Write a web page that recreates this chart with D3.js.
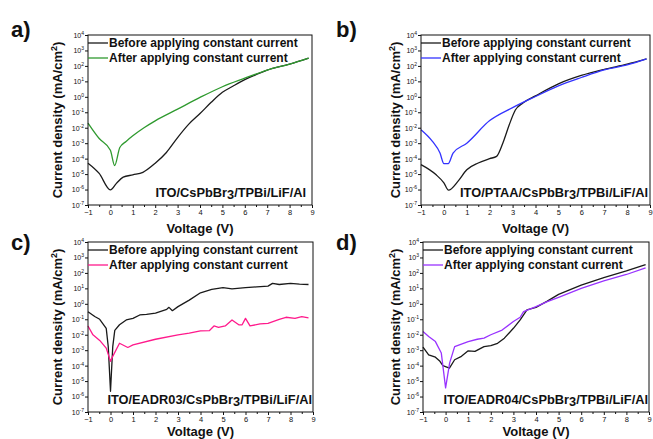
<!DOCTYPE html>
<html>
<head>
<meta charset="utf-8">
<script src="https://cdn.jsdelivr.net/npm/d3@7"></script>
<style>
  body { margin: 0; background: #fff; }
  text { font-family: "Liberation Sans", Arial, sans-serif; fill: #111; }
</style>
</head>
<body>
<div id="chart"></div>
<script>
// values (V, mA/cm2)
var aBeforeV = [-1, -0.5, 0, 0.27, 0.57, 1, 1.45, 2, 2.5, 3, 3.5, 4, 4.5, 5, 5.5, 6, 6.5, 7, 8, 8.85]
var aBeforeJ = [5.1e-5, 1.1e-5, 9.5e-7, 2.5e-6, 6.3e-6, 8.9e-6, 1.3e-5, 5e-5, 2.5e-4, 2.3e-3, 1.7e-2, 8.3e-2, 0.44, 1.95, 5.2, 12.9, 27, 54, 132, 324]
var aAfterV = [-1, -0.5, 0, 0.19, 0.42, 0.7, 1, 1.5, 2, 3, 4, 5, 6, 7, 8, 8.85]
var aAfterJ = [2.0e-2, 2.0e-3, 3.5e-4, 3.6e-5, 5.2e-4, 1.3e-3, 3.0e-3, 1.0e-2, 2.8e-2, 0.16, 0.91, 4.5, 16, 54, 132, 324]

var bBeforeV = [-1, -0.35, 0, 0.2, 0.62, 1, 1.5, 2, 2.3, 2.6, 2.85, 3.12, 3.45, 4, 5, 6, 7, 8, 8.85]
var bBeforeJ = [4.1e-5, 9.3e-6, 2.7e-6, 9.1e-7, 3.5e-6, 1.9e-5, 5.2e-5, 1e-4, 1.4e-4, 1.3e-3, 1.5e-2, 0.14, 0.4, 1.15, 6.9, 24, 60, 129, 282]
var bAfterV = [-1, -0.5, -0.17, 0, 0.19, 0.4, 1, 2, 3, 4, 5, 6, 7, 8, 8.85]
var bAfterJ = [7.4e-3, 1.3e-3, 2.3e-4, 4.8e-5, 4.8e-5, 2.3e-4, 1.0e-3, 2.9e-2, 0.2, 1.05, 5.1, 17.8, 55, 115, 282]

var cBeforeV = [-1, -0.7, -0.48, -0.19, -0.1, 0, 0.1, 0.19, 0.4, 0.7, 1, 1.3, 1.6, 2, 2.5, 2.6, 2.75, 3, 3.5, 4, 4.5, 5, 5.4, 6, 6.5, 7, 7.2, 7.5, 8, 8.4, 8.8]
var cBeforeJ = [0.31, 0.15, 0.1, 0.026, 1.7e-3, 2.2e-6, 1.7e-3, 0.019, 0.044, 0.091, 0.115, 0.19, 0.21, 0.25, 0.44, 0.59, 0.36, 0.66, 1.74, 5.2, 8.5, 11, 9.3, 11, 12.6, 14, 21, 17.8, 21, 18.6, 17.8]
var cAfterV = [-1, -0.78, -0.48, -0.19, 0, 0.1, 0.4, 0.77, 1, 2, 3, 3.5, 4, 4.4, 4.6, 4.8, 5.1, 5.4, 5.7, 5.85, 6, 6.2, 6.65, 7, 7.5, 7.8, 8.2, 8.5, 8.8]
var cAfterJ = [0.037, 9.8e-3, 4.3e-3, 1.35e-3, 1.9e-4, 4e-4, 2.8e-3, 1.5e-3, 2.2e-3, 5.1e-3, 9.8e-3, 0.0126, 0.0178, 0.0186, 0.037, 0.030, 0.037, 0.091, 0.044, 0.044, 0.115, 0.037, 0.05, 0.055, 0.1, 0.135, 0.115, 0.148, 0.123]

var dBeforeV = [-1, -0.75, -0.45, -0.25, -0.12, 0.17, 0.4, 0.7, 1, 1.3, 1.7, 2, 2.3, 2.6, 3, 3.3, 3.6, 4, 4.5, 5, 6, 7, 8, 8.85]
var dBeforeJ = [1.6e-3, 5e-4, 3.5e-4, 1.9e-4, 1e-4, 7e-5, 2.4e-4, 4e-4, 9.1e-4, 8.3e-4, 1.7e-3, 2e-3, 2.8e-3, 6e-3, 0.026, 0.091, 0.4, 0.59, 1.5, 4.1, 16, 50, 135, 347]
var dAfterV = [-1, -0.75, -0.45, -0.19, 0, 0.18, 0.4, 0.7, 1, 1.4, 1.7, 2, 2.5, 3, 3.3, 3.45, 4, 4.5, 5, 6, 7, 8, 8.85]
var dAfterJ = [0.016, 7.6e-3, 3.6e-3, 6.5e-4, 3.6e-6, 1.5e-4, 1.7e-3, 2.5e-3, 3.6e-3, 5.1e-3, 6e-3, 0.01, 0.02, 0.071, 0.135, 0.31, 0.66, 1.38, 2.6, 10, 30, 79, 209]

var xTicks = [-1, 0, 1, 2, 3, 4, 5, 6, 7, 8, 9]
var yExps = [-7, -6, -5, -4, -3, -2, -1, 0, 1, 2, 3, 4]
var legendLabels = ['Before applying constant current', 'After applying constant current']

var panels = [
  { tag: 'a)', box: [88, 312, 35, 205], tagXY: [11, 37], titleX: 57, pad: 6, xtY: 232.5,
    before: [aBeforeV, aBeforeJ], after: [aAfterV, aAfterJ], color: '#2f9a2f',
    device: ['ITO/CsPbBr', '3', '/TPBi/LiF/Al'], smooth: true },
  { tag: 'b)', box: [421, 650, 35, 205], tagXY: [336, 37], titleX: 395, pad: 2, xtY: 232.5,
    before: [bBeforeV, bBeforeJ], after: [bAfterV, bAfterJ], color: '#3333ff',
    device: ['ITO/PTAA/CsPbBr', '3', '/TPBi/LiF/Al'], smooth: true },
  { tag: 'c)', box: [88, 313, 242, 412], tagXY: [11, 250], titleX: 57, pad: 1, xtY: 435.5,
    before: [cBeforeV, cBeforeJ], after: [cAfterV, cAfterJ], color: '#ff1a8c',
    device: ['ITO/EADR03/CsPbBr', '3', '/TPBi/LiF/Al'], smooth: false },
  { tag: 'd)', box: [423, 649, 242, 412], tagXY: [336, 250], titleX: 395, pad: 1, xtY: 435.5,
    before: [dBeforeV, dBeforeJ], after: [dAfterV, dAfterJ], color: '#9933ff',
    device: ['ITO/EADR04/CsPbBr', '3', '/TPBi/LiF/Al'], smooth: false }
]

var svg = d3.select('#chart').append('svg').attr('width', 653).attr('height', 439)

panels.forEach(function (p) {
  var x0 = p.box[0], x1 = p.box[1], y0 = p.box[2], y1 = p.box[3]
  var x = d3.scaleLinear().domain([-1, 9]).range([x0, x1])
  var y = d3.scaleLog().domain([1e-7, 1e4]).range([y1, y0])
  var g = svg.append('g')

  // curves
  var line = d3.line()
    .x(function (d) { return x(d[0]) })
    .y(function (d) { return y(d[1]) })
    .curve(p.smooth ? d3.curveMonotoneX : d3.curveLinear)
  var series = [[p.before, '#1a1a1a'], [p.after, p.color]]
  series.forEach(function (s) {
    var pts = d3.zip(s[0][0], s[0][1])
    g.append('path').datum(pts).attr('d', line)
      .attr('fill', 'none').attr('stroke', s[1]).attr('stroke-width', 1.3)
      .attr('stroke-linejoin', 'round')
  })

  // frame
  g.append('rect').attr('x', x0).attr('y', y0).attr('width', x1 - x0).attr('height', y1 - y0)
    .attr('fill', 'none').attr('stroke', '#111').attr('stroke-width', 1)

  // x axis
  var xa = g.append('g').attr('transform', 'translate(0,' + y1 + ')')
    .call(d3.axisBottom(x).tickValues(xTicks).tickSize(3).tickFormat(d3.format('d')))
  var xm = g.append('g').attr('transform', 'translate(0,' + y1 + ')')
    .call(d3.axisBottom(x).tickValues(xTicks.slice(0, -1).map(function (t) { return t + 0.5 })).tickSize(2).tickFormat(''))
  ;[xa, xm].forEach(function (a) {
    a.select('.domain').remove()
    a.selectAll('line').attr('stroke', '#111')
  })
  xa.selectAll('text').attr('font-size', 7.5).attr('dy', '0.9em').attr('y', 3.5)
    .style('font-family', '"Liberation Sans", Arial, sans-serif').attr('fill', '#222')

  // y axis
  var ya = g.append('g').attr('transform', 'translate(' + x0 + ',0)')
    .call(d3.axisLeft(y).tickValues(yExps.map(function (e) { return Math.pow(10, e) })).tickSize(3).tickFormat(''))
  ya.select('.domain').remove()
  ya.selectAll('line').attr('stroke', '#111')
  ya.selectAll('.tick').each(function (d, i) {
    var t = d3.select(this).append('text').attr('x', -4).attr('dy', '0.35em')
      .attr('text-anchor', 'end').attr('font-size', 7).attr('fill', '#222')
      .style('font-family', '"Liberation Sans", Arial, sans-serif')
    t.append('tspan').text('10')
    t.append('tspan').attr('font-size', 5).attr('dy', -3).text(yExps[i])
  })

  // axis titles
  g.append('text').attr('x', (x0 + x1) / 2).attr('y', p.xtY)
    .attr('text-anchor', 'middle').attr('font-size', 13).attr('font-weight', 'bold')
    .text('Voltage (V)')
  var yt = g.append('text')
    .attr('transform', 'translate(' + (p.titleX + 4.5) + ',' + ((y0 + y1) / 2) + ') rotate(-90)')
    .attr('text-anchor', 'middle').attr('font-size', 13).attr('font-weight', 'bold')
  yt.append('tspan').text('Current density (mA/cm')
  yt.append('tspan').attr('font-size', 9).attr('dy', -5).text('2')
  yt.append('tspan').attr('dy', 5).text(')')

  // panel tag
  g.append('text').attr('x', p.tagXY[0]).attr('y', p.tagXY[1])
    .attr('font-size', 22).attr('font-weight', 'bold').text(p.tag)

  // legend
  legendLabels.forEach(function (lab, i) {
    var ly = y0 + 8 + i * 15
    g.append('line').attr('x1', x0).attr('x2', x0 + 20).attr('y1', ly).attr('y2', ly)
      .attr('stroke', i ? p.color : '#1a1a1a').attr('stroke-width', 1.3)
    g.append('text').attr('x', x0 + 21).attr('y', ly + 4.3)
      .attr('font-size', 12).attr('font-weight', 'bold').text(lab)
  })

  // device stack label
  var dv = g.append('text').attr('x', x1 - p.pad).attr('y', y1 - 8)
    .attr('text-anchor', 'end').attr('font-size', 12.8).attr('font-weight', 'bold')
  dv.append('tspan').text(p.device[0])
  dv.append('tspan').attr('dy', 1.5).text(p.device[1])
  dv.append('tspan').attr('dy', -1.5).text(p.device[2])
})
</script>
</body>
</html>
